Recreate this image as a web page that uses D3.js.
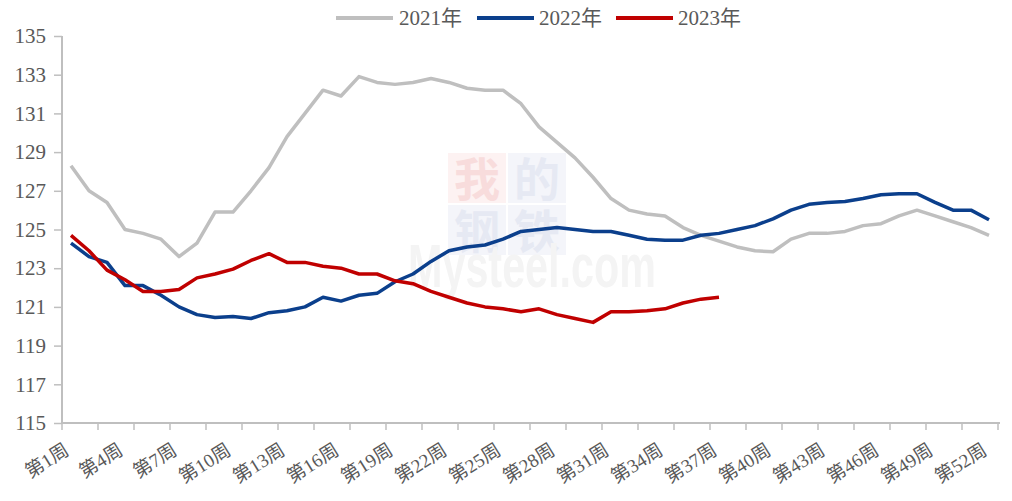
<!DOCTYPE html>
<html>
<head>
<meta charset="utf-8">
<script src="https://cdn.jsdelivr.net/npm/d3@7"></script>
<style>
  html, body { margin: 0; padding: 0; background: #ffffff; }
  svg { display: block; }
</style>
</head>
<body>
<svg id="chart" width="1012" height="501"></svg>
<script>
const weeks = d3.range(1, 53);
const weekLabels = weeks.map(w => "第" + w + "周");
const labelWeeks = [1, 4, 7, 10, 13, 16, 19, 22, 25, 28, 31, 34, 37, 40, 43, 46, 49, 52];
const yTicks = [115, 117, 119, 121, 123, 125, 127, 129, 131, 133, 135];
const seriesNames = ["2021年", "2022年", "2023年"];
const seriesColors = ["#BFBFBF", "#0B3F8C", "#C00000"];

const values2021 = [128.3, 127.0, 126.4, 125.0, 124.8, 124.5, 123.6, 124.3, 125.9, 125.9,
  127.0, 128.2, 129.8, 131.0, 132.2, 131.9, 132.9, 132.6, 132.5, 132.6,
  132.8, 132.6, 132.3, 132.2, 132.2, 131.5, 130.3, 129.5, 128.7, 127.7,
  126.6, 126.0, 125.8, 125.7, 125.1, 124.7, 124.4, 124.1, 123.9, 123.85,
  124.5, 124.8, 124.8, 124.9, 125.2, 125.3, 125.7, 126.0, 125.7, 125.4,
  125.1, 124.7];
const values2022 = [124.3, 123.6, 123.3, 122.1, 122.1, 121.6, 121.0, 120.6, 120.45, 120.5,
  120.4, 120.7, 120.8, 121.0, 121.5, 121.3, 121.6, 121.7, 122.3, 122.7,
  123.35, 123.9, 124.1, 124.2, 124.5, 124.9, 125.0, 125.1, 125.0, 124.9,
  124.9, 124.7, 124.5, 124.45, 124.45, 124.7, 124.8, 125.0, 125.2, 125.55,
  126.0, 126.3, 126.4, 126.45, 126.6, 126.8, 126.85, 126.85, 126.4, 126.0,
  126.0, 125.5];
const values2023 = [124.7, 123.9, 122.9, 122.4, 121.8, 121.8, 121.9, 122.5, 122.7, 122.95,
  123.4, 123.75, 123.3, 123.3, 123.1, 123.0, 122.7, 122.7, 122.35, 122.2,
  121.8, 121.5, 121.2, 121.0, 120.9, 120.75, 120.9, 120.6, 120.4, 120.2,
  120.75, 120.75, 120.8, 120.9, 121.2, 121.4, 121.5];

const allSeries = [values2021, values2022, values2023];

const svg = d3.select("#chart");
const plotLeft = 62, plotRight = 998, plotTop = 36, plotBottom = 423;
const axisColor = "#BFBFBF";
const textColor = "#595959";
const fontFam = "'Liberation Serif', 'Times New Roman', 'Noto Sans CJK SC', serif";

const x = d3.scaleBand().domain(weeks).range([plotLeft, plotRight]).paddingInner(0).paddingOuter(0);
const cx = w => x(w) + x.bandwidth() / 2;
const y = d3.scaleLinear().domain([115, 135]).range([plotBottom, plotTop]);

// watermark (faint)
const wm = svg.append("g").attr("class", "watermark");
const boxes = [
  {t: "我", bx: 448, by: 153, bg: "#FDF2F2", fg: "#F8DCDC"},
  {t: "的", bx: 508, by: 153, bg: "#F4F5FA", fg: "#E6E9F3"},
  {t: "钢", bx: 448, by: 205, bg: "#F4F5FA", fg: "#E6E9F3"},
  {t: "铁", bx: 508, by: 205, bg: "#F4F5FA", fg: "#E6E9F3"}
];
boxes.forEach(b => {
  wm.append("rect").attr("x", b.bx).attr("y", b.by).attr("width", 58).attr("height", 50).attr("fill", b.bg);
  wm.append("text").attr("x", b.bx + 29).attr("y", b.by + 43).attr("text-anchor", "middle")
    .attr("font-family", "'Noto Sans CJK SC', sans-serif").attr("font-weight", "bold")
    .attr("font-size", 46).attr("fill", b.fg).text(b.t);
});
wm.append("text").attr("x", 408).attr("y", 287)
  .attr("font-family", "'Liberation Sans', Arial, sans-serif").attr("font-weight", "bold")
  .attr("font-size", 62).attr("fill", "#F4F4F4")
  .attr("textLength", 248).attr("lengthAdjust", "spacingAndGlyphs")
  .text("Mysteel.com");

// y axis
const yAxis = d3.axisLeft(y).tickValues(yTicks).tickSize(8).tickPadding(8).tickFormat(d3.format("d"));
const gy = svg.append("g").attr("transform", `translate(${plotLeft},0)`).call(yAxis);
gy.select(".domain").attr("stroke", axisColor).attr("stroke-width", 2).attr("d", `M0,${plotTop}V${plotBottom}`);
gy.selectAll(".tick line").attr("stroke", axisColor).attr("stroke-width", 1.5);
gy.selectAll(".tick text").attr("fill", textColor).attr("font-family", fontFam).attr("font-size", 21);

// x axis
const gx = svg.append("g").attr("transform", `translate(0,${plotBottom})`);
gx.append("line").attr("x1", plotLeft).attr("x2", plotRight + 2).attr("y1", 0).attr("y2", 0)
  .attr("stroke", axisColor).attr("stroke-width", 2);
const tickBounds = weeks.filter((w, i) => i % 2 === 0).map(w => x(w)).concat([plotRight]);
gx.selectAll("line.xt").data(tickBounds).join("line").attr("class", "xt")
  .attr("x1", d => d).attr("x2", d => d).attr("y1", 0).attr("y2", 7)
  .attr("stroke", axisColor).attr("stroke-width", 1.5);
gx.selectAll("text.xl").data(labelWeeks).join("text").attr("class", "xl")
  .attr("transform", d => `translate(${cx(d) - 4},${25}) rotate(-32)`)
  .attr("text-anchor", "end").attr("dominant-baseline", "central")
  .attr("fill", textColor).attr("font-family", fontFam).attr("font-size", 19)
  .text(d => weekLabels[d - 1]);

// lines
const line = d3.line().x((d, i) => cx(weeks[i])).y(d => y(d));
svg.selectAll("path.series").data(allSeries).join("path").attr("class", "series")
  .attr("d", d => line(d)).attr("fill", "none")
  .attr("stroke", (d, i) => seriesColors[i]).attr("stroke-width", 3.5)
  .attr("stroke-linejoin", "round").attr("stroke-linecap", "butt");

// legend
const legendItems = [{lx: 336, tx: 399}, {lx: 477, tx: 539}, {lx: 616, tx: 678}];
const lg = svg.append("g");
legendItems.forEach((it, i) => {
  lg.append("line").attr("x1", it.lx).attr("x2", it.lx + 57).attr("y1", 18).attr("y2", 18)
    .attr("stroke", seriesColors[i]).attr("stroke-width", 4);
  lg.append("text").attr("x", it.tx).attr("y", 18).attr("dominant-baseline", "central")
    .attr("fill", textColor).attr("font-family", fontFam).attr("font-size", 21)
    .text(seriesNames[i]);
});
</script>
</body>
</html>
